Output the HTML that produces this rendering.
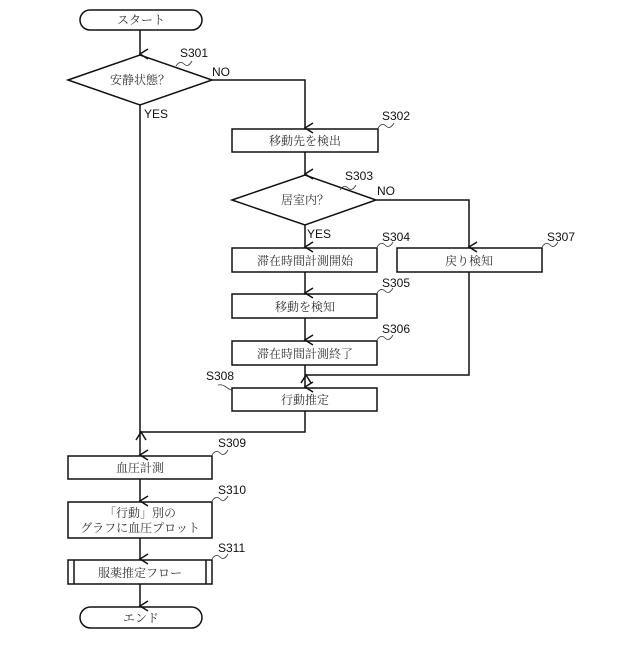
<!DOCTYPE html>
<html><head><meta charset="utf-8"><style>
body{margin:0;background:#fff}
svg text{font-family:"Liberation Serif","Noto Serif CJK SC",serif;font-size:12px;fill:#333}
svg text.l{font-family:"Liberation Sans",sans-serif;font-size:12px;fill:#111}
</style></head><body>
<svg width="640" height="640" viewBox="0 0 640 640" xmlns="http://www.w3.org/2000/svg">
<defs><marker id="a" markerWidth="12" markerHeight="12" refX="6" refY="10" orient="auto" markerUnits="userSpaceOnUse" viewBox="0 0 12 12"><path d="M1,2 L6,10 L11,2" fill="none" stroke="#111" stroke-width="1.5"/></marker></defs>
<g fill="none" stroke="#111" stroke-width="1.5">
<rect x="80" y="10" width="122" height="20" rx="10"/>
<path d="M68,80 L140,55 L212,80 L140,105 Z"/>
<rect x="232" y="129" width="146" height="23"/>
<path d="M232,200 L305,175 L376,200 L305,225 Z"/>
<rect x="232" y="248" width="145" height="24"/>
<rect x="397" y="248" width="145" height="24"/>
<rect x="232" y="294" width="145" height="24"/>
<rect x="232" y="341" width="145" height="24"/>
<rect x="232" y="388" width="145" height="23"/>
<rect x="68" y="456" width="144" height="23"/>
<rect x="68" y="502" width="144" height="36"/>
<rect x="68" y="560" width="144" height="24"/>
<line x1="74" y1="560" x2="74" y2="584"/><line x1="206" y1="560" x2="206" y2="584"/>
<rect x="80" y="607" width="122" height="21" rx="10.5"/>
<!-- connectors -->
<line x1="140" y1="30" x2="140" y2="54" marker-end="url(#a)"/>
<path d="M212,80 H305 V128" marker-end="url(#a)"/>
<line x1="140" y1="105" x2="140" y2="455" marker-end="url(#a)"/>
<line x1="305" y1="152" x2="305" y2="174" marker-end="url(#a)"/>
<line x1="305" y1="225" x2="305" y2="247" marker-end="url(#a)"/>
<path d="M376,200 H469 V247" marker-end="url(#a)"/>
<line x1="305" y1="272" x2="305" y2="293" marker-end="url(#a)"/>
<line x1="305" y1="318" x2="305" y2="340" marker-end="url(#a)"/>
<line x1="305" y1="365" x2="305" y2="387" marker-end="url(#a)"/>
<path d="M469,272 V375 H306" marker-end="url(#a)"/>
<path d="M305,411 V432 H141" marker-end="url(#a)"/>
<line x1="140" y1="479" x2="140" y2="501" marker-end="url(#a)"/>
<line x1="140" y1="538" x2="140" y2="559" marker-end="url(#a)"/>
<line x1="140" y1="584" x2="140" y2="606" marker-end="url(#a)"/>
</g>
<g fill="none" stroke="#333" stroke-width="0.8">
<path d="M176,66 q4,-6 8,-2 t8,-3"/>
<path d="M378,128 q4,-6 8,-2 t8,-3"/>
<path d="M340,190 q4,-6 8,-2 t8,-3"/>
<path d="M377,247 q4,-6 8,-2 t8,-3"/>
<path d="M542,247 q4,-6 8,-2 t8,-3"/>
<path d="M377,293 q4,-6 8,-2 t8,-3"/>
<path d="M377,340 q4,-6 8,-2 t8,-3"/>
<path d="M218,385 q4,-1 8,2 t6,3"/>
<path d="M212,455 q4,-6 8,-2 t8,-3"/>
<path d="M212,501 q4,-6 8,-2 t8,-3"/>
<path d="M212,559 q4,-6 8,-2 t8,-3"/>
</g>
<g text-anchor="middle">
<text x="141" y="24">スタート</text>
<text x="140" y="84">安静状態？</text>
<text x="305" y="145">移動先を検出</text>
<text x="305" y="204">居室内？</text>
<text x="305" y="265">滞在時間計測開始</text>
<text x="469" y="265">戻り検知</text>
<text x="305" y="311">移動を検知</text>
<text x="305" y="358">滞在時間計測終了</text>
<text x="305" y="404">行動推定</text>
<text x="140" y="472">血圧計測</text>
<text x="140" y="517">「行動」別の</text>
<text x="140" y="532">グラフに血圧プロット</text>
<text x="140" y="577">服薬推定フロー</text>
<text x="141" y="622">エンド</text>
</g>
<g>
<text class="l" x="180" y="57">S301</text>
<text class="l" x="212" y="76">NO</text>
<text class="l" x="144" y="118">YES</text>
<text class="l" x="382" y="120">S302</text>
<text class="l" x="345" y="180">S303</text>
<text class="l" x="377" y="195">NO</text>
<text class="l" x="307" y="238">YES</text>
<text class="l" x="382" y="241">S304</text>
<text class="l" x="547" y="241">S307</text>
<text class="l" x="382" y="287">S305</text>
<text class="l" x="382" y="333">S306</text>
<text class="l" x="206" y="380">S308</text>
<text class="l" x="218" y="447">S309</text>
<text class="l" x="218" y="494">S310</text>
<text class="l" x="218" y="552">S311</text>
</g>
</svg>
</body></html>
